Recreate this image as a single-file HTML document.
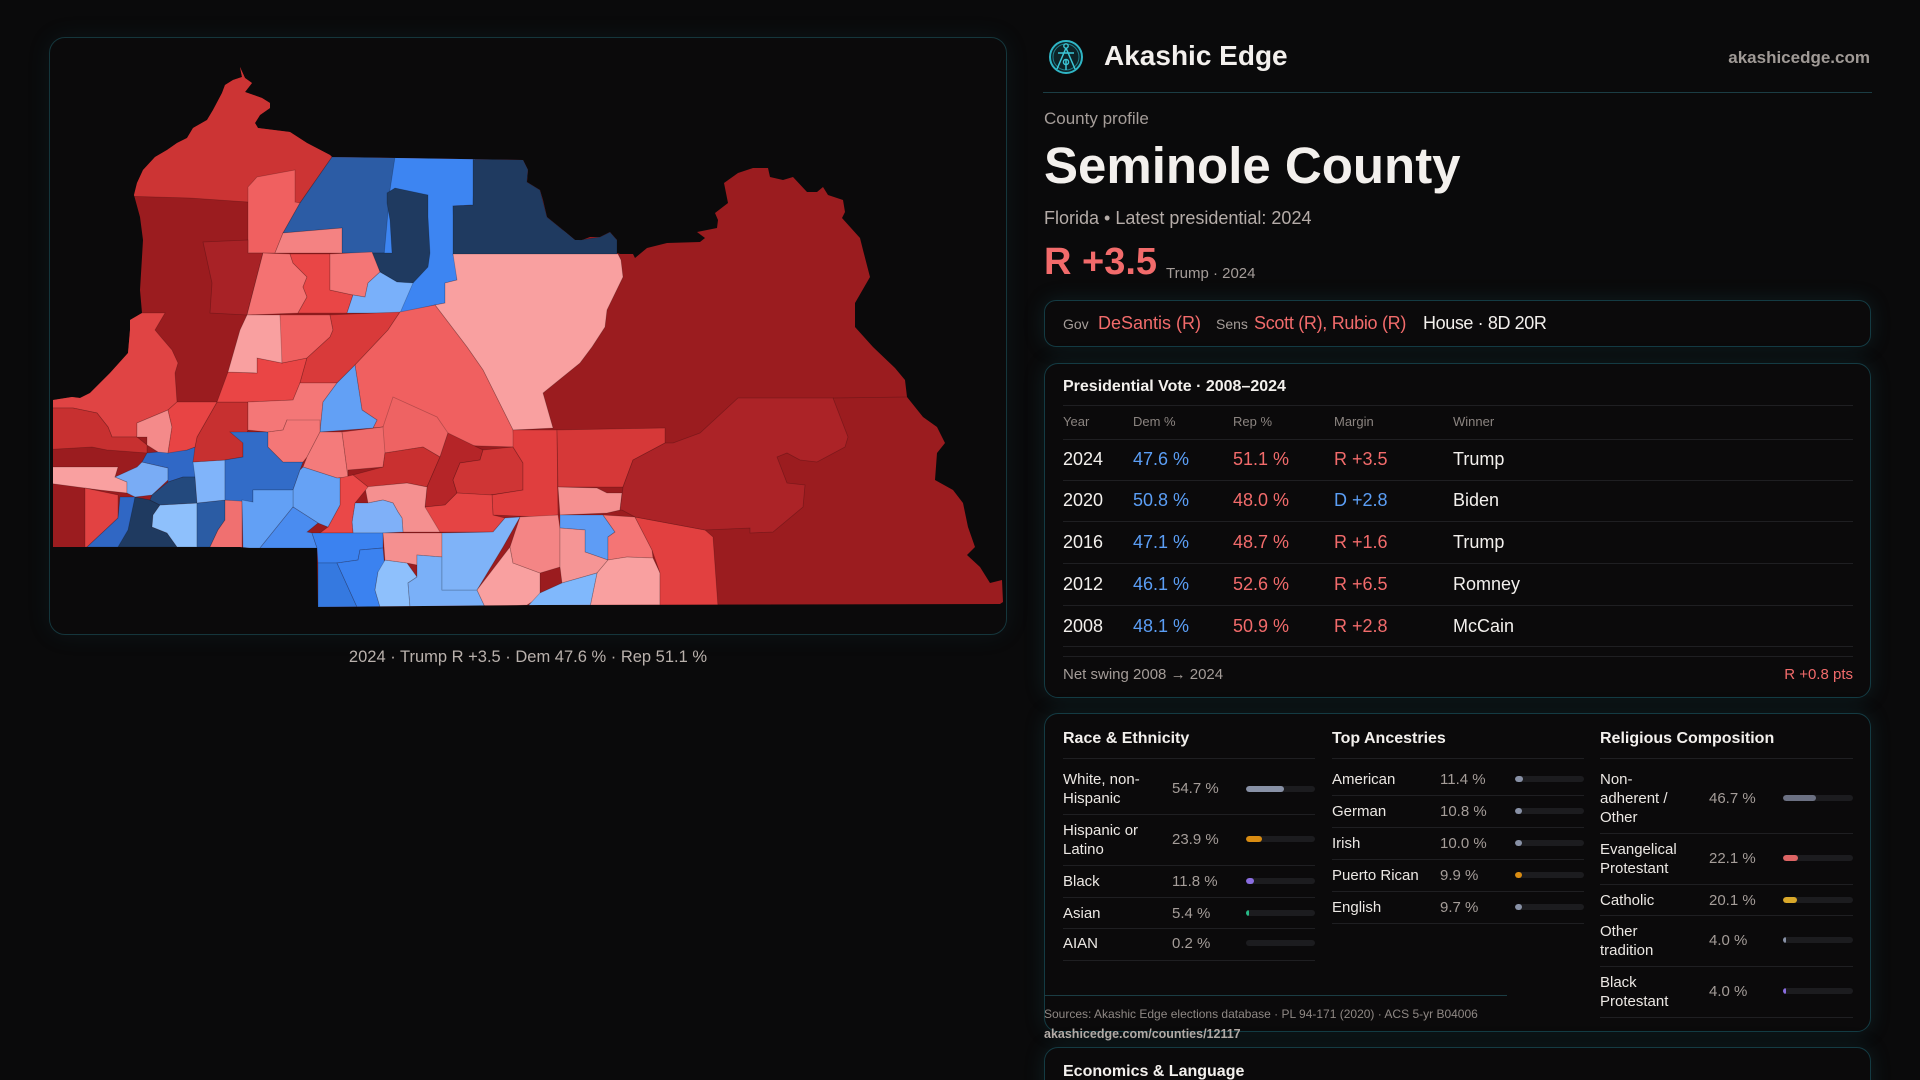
<!DOCTYPE html>
<html><head><meta charset="utf-8">
<style>
*{margin:0;padding:0;box-sizing:border-box}
html,body{width:1920px;height:1080px;overflow:hidden;background:#0a0a0b;font-family:"Liberation Sans",sans-serif;color:#f3f0ed}
#root{position:relative;width:1920px;height:1080px;overflow:hidden;background:#0a0a0b}
.a{position:absolute;line-height:1;white-space:nowrap}
.card{position:absolute;left:1044px;width:827px;border:1px solid #143b43;border-radius:14px;background:#0b0a0b;box-shadow:0 0 20px rgba(30,100,110,0.22)}
.ln{position:absolute;height:1px;background:#1f1f22}
.g{color:#a59d99}
.r{color:#f26b6b}
.b{color:#5b9ef5}
.w{color:#f3f0ed}
.t15{position:absolute;font-size:15px;line-height:19px;white-space:nowrap}
.lab{color:#ece8e4}
.val{color:#a59d99}
.trk{position:absolute;height:6px;border-radius:3px;background:#1c1c1f;overflow:hidden}
.trk i{position:absolute;left:0;top:0;height:6px;border-radius:3px}
.hd{font-size:13px;color:#8b8480}
.rw{font-size:18px}
.tt{font-size:16px;font-weight:bold;color:#f3f0ed}
</style></head><body>
<div id="root">

<!-- Map panel -->
<div style="position:absolute;left:49px;top:37px;width:958px;height:598px;border:1px solid #15363c;border-radius:16px;background:#0b0a0b;box-shadow:0 0 24px rgba(30,110,120,0.12)"></div>

<svg style="position:absolute;left:49px;top:37px" width="958" height="598" viewBox="49 37 958 598">
<defs>
<clipPath id="cl"><polygon points="240,67 245,78 252,83 245,92 262,98 270,103 270,108 260,115 255,123 258,128 290,132 307,143 330,155 332,157 523,160 528,170 527,182 540,190 543,200 547,217 563,230 575,240 582,240 590,237 600,237 610,232 617,240 617,253 620,254 633,254 635,258 647,248 667,243 700,242 705,238 697,232 717,228 718,220 715,213 728,203 724,183 738,173 753,168 768,168 770,177 783,180 793,177 807,192 817,192 823,187 828,195 843,200 845,212 842,218 860,238 863,250 870,277 855,303 855,327 873,347 895,368 905,380 907,397 923,417 937,427 945,443 937,453 935,480 953,490 963,503 968,527 975,547 967,555 980,567 990,583 1002,580 1003,602 1000,604 540,605 318,607 317,548 250,548 240,547 53,547 53,400 72,397 80,398 90,393 110,373 128,353 130,330 130,320 142,313 140,290 142,257 143,240 140,217 134,195 137,183 143,170 155,157 167,150 177,143 187,138 193,128 207,120 213,110 222,93 225,85 233,80 242,77"/></clipPath>
</defs>
<g clip-path="url(#cl)" stroke="rgba(0,0,0,0.22)" stroke-width="0.8">
<rect x="40" y="40" width="980" height="600" fill="#9b1c1f"/>
<polygon fill="#cc3434" points="100,40 362,40 332,157 300,203 248,202 190,198 120,196"/>
<polygon fill="#f06060" points="248,187 257,177 295,170 295,202 300,203 283,233 275,253 248,253"/>
<polygon fill="#a82226" points="203,242 248,240 248,253 263,253 247,315 210,313 212,283"/>
<polygon fill="#2c5ca5" points="332,157 398,157 398,253 342,253 342,228 283,233 300,203"/>
<polygon fill="#3d85f2" points="395,157 475,159 473,205 453,206 455,253 457,280 445,283 445,303 435,305 400,313 380,300 390,190"/>
<polygon fill="#1f3a60" points="387,193 395,188 428,195 428,217 430,253 428,267 413,283 397,282 380,272 373,257 372,253 392,253 390,220 387,203"/>
<polygon fill="#1f3a60" points="473,150 530,150 528,170 527,182 540,190 547,217 563,230 580,240 600,237 610,232 617,240 617,255 453,255 453,206 473,205"/>
<polygon fill="#f9a0a0" points="453,254 618,254 621,260 623,277 607,310 605,327 592,347 580,363 543,393 553,428 513,430 483,370 467,347 435,305 445,303 445,283 457,280"/>
<polygon fill="#f48282" points="283,233 342,228 342,253 275,253"/>
<polygon fill="#f47272" points="263,253 290,254 293,263 307,277 303,287 307,297 298,313 247,315"/>
<polygon fill="#e94646" points="290,254 330,254 330,290 353,295 347,313 298,313 307,297 303,287 307,277 293,263"/>
<polygon fill="#f47676" points="330,254 372,252 380,272 368,283 365,297 353,295 330,290"/>
<polygon fill="#79b0fa" points="368,283 380,272 397,282 413,283 400,313 347,313 353,295 365,297"/>
<polygon fill="#e04444" points="100,310 142,313 165,313 155,330 160,336 172,350 178,363 175,373 177,402 168,410 137,423 137,437 112,437 108,427 97,413 73,408 40,408 40,300"/>
<polygon fill="#c73030" points="40,408 73,408 97,413 108,427 112,437 137,437 147,445 147,453 107,450 92,447 40,450"/>
<polygon fill="#f9a0a0" points="40,467 118,467 115,477 127,482 127,493 100,490 40,482"/>
<polygon fill="#e24242" points="85,488 118,495 118,518 87,547 85,547"/>
<polygon fill="#3067c4" points="87,547 118,518 120,497 135,497 133,530 120,547"/>
<polygon fill="#1f3a60" points="135,497 150,500 160,505 153,515 152,527 167,533 177,547 118,547 128,530"/>
<polygon fill="#8ec0fc" points="160,505 197,503 197,547 177,547 167,533 152,527 153,515"/>
<polygon fill="#2b5ca4" points="197,503 225,500 225,520 218,530 210,547 197,547"/>
<polygon fill="#f07070" points="225,500 242,500 242,548 210,547 218,530 225,520"/>
<polygon fill="#79acf5" points="115,477 137,467 142,462 168,468 168,480 152,495 135,497 127,493 127,482"/>
<polygon fill="#3068c6" points="142,462 147,453 158,452 187,450 195,447 195,477 183,477 168,482 168,468"/>
<polygon fill="#23497d" points="168,482 183,477 195,477 197,503 160,505 150,500 152,495"/>
<polygon fill="#80b4fa" points="193,462 225,460 225,500 197,503 195,477"/>
<polygon fill="#c73030" points="195,447 197,437 217,402 248,402 248,430 243,443 243,457 225,460 193,462"/>
<polygon fill="#f48a8a" points="137,423 168,410 172,427 168,453 158,452 147,445 147,437 137,437"/>
<polygon fill="#e84444" points="168,410 177,402 217,402 197,437 195,447 187,450 168,453 172,427"/>
<polygon fill="#326cc8" points="230,432 268,432 268,447 283,462 303,462 300,470 293,490 253,490 253,502 225,500 225,460 243,457 243,443"/>
<polygon fill="#ea4545" points="228,372 257,373 257,358 282,363 307,358 300,383 293,400 248,402 217,402"/>
<polygon fill="#f9a0a0" points="247,315 280,315 282,330 282,363 257,358 257,373 228,372 240,330"/>
<polygon fill="#f06060" points="280,315 330,315 333,330 330,337 307,358 282,363"/>
<polygon fill="#d93a3a" points="330,315 400,312 388,330 355,365 337,383 300,383 307,358 330,337 333,330"/>
<polygon fill="#f06060" points="400,312 435,305 467,347 483,370 513,430 515,447 450,445 440,457 423,447 385,453 383,427 373,428 377,420 362,410 355,365 388,330"/>
<polygon fill="#ee6363" points="373,428 383,427 393,397 437,417 448,433 440,457 423,447 385,453"/>
<polygon fill="#f47777" points="248,402 293,400 300,383 337,383 323,402 320,432 287,420 283,430 268,432 248,430"/>
<polygon fill="#62a0f5" points="337,383 355,365 362,410 377,420 373,428 320,432 323,402"/>
<polygon fill="#f47777" points="268,432 283,430 287,420 320,420 320,432 307,457 303,462 283,462 268,447"/>
<polygon fill="#f47b7b" points="320,432 342,432 348,477 337,478 303,467 307,457"/>
<polygon fill="#f06b6b" points="342,432 383,427 385,453 383,467 348,470 348,477"/>
<polygon fill="#c93030" points="353,475 383,467 385,453 423,447 440,457 427,487 407,483 368,487"/>
<polygon fill="#b52528" points="448,433 483,450 480,460 460,463 453,480 457,493 445,505 425,507 427,487 440,457"/>
<polygon fill="#cf3535" points="483,450 513,447 523,463 523,490 490,495 457,493 453,480 460,463 480,460"/>
<polygon fill="#e03e3e" points="513,430 557,430 558,515 540,517 493,515 492,495 523,490 523,463 513,447"/>
<polygon fill="#d63838" points="557,430 665,428 665,443 633,460 623,487 558,487"/>
<polygon fill="#e54444" points="425,507 445,505 457,493 492,495 493,515 505,518 493,532 440,532 428,520"/>
<polygon fill="#f59090" points="365,487 407,483 427,487 425,507 440,532 403,532 402,518 398,512 393,503 383,500 368,503"/>
<polygon fill="#7fb0f8" points="355,503 368,503 383,500 393,503 398,512 402,518 403,532 383,533 353,533 352,522"/>
<polygon fill="#ea4848" points="340,478 353,475 368,487 355,503 352,522 353,533 320,533 328,527 340,505"/>
<polygon fill="#66a2f5" points="303,467 337,478 340,478 340,505 328,527 318,523 293,507 293,490 300,470"/>
<polygon fill="#62a0f5" points="253,490 293,490 293,507 260,548 243,548 242,500 253,502"/>
<polygon fill="#4a8cf0" points="293,507 318,523 307,532 312,533 317,548 260,548"/>
<polygon fill="#3b82f0" points="312,533 383,533 383,548 360,550 358,560 337,563 318,563 317,548"/>
<polygon fill="#3579e0" points="318,563 337,563 357,607 318,607"/>
<polygon fill="#3b82f0" points="337,563 358,560 360,550 383,548 385,570 378,572 375,590 380,607 357,607"/>
<polygon fill="#8ec0fc" points="385,560 407,563 417,577 408,583 410,607 380,607 375,590 378,572"/>
<polygon fill="#f59090" points="383,533 442,533 442,557 417,555 417,565 407,563 385,560"/>
<polygon fill="#7ab0f8" points="417,555 442,557 442,590 477,590 485,607 410,607 408,583 417,577 417,565"/>
<polygon fill="#7fb3f8" points="442,533 493,532 505,518 520,517 503,547 477,590 442,590"/>
<polygon fill="#f9a0a0" points="477,590 510,547 513,563 540,573 540,597 527,605 485,607"/>
<polygon fill="#f48585" points="520,517 558,515 560,528 560,567 540,573 513,563 510,547"/>
<polygon fill="#f59090" points="558,487 597,488 607,493 622,493 620,510 607,513 560,515"/>
<polygon fill="#5e9cf5" points="560,515 603,515 615,532 608,537 608,560 585,552 585,530 560,528"/>
<polygon fill="#f47575" points="603,515 635,517 652,550 653,558 627,557 608,560 608,537 615,532"/>
<polygon fill="#f59595" points="560,528 585,530 585,552 608,560 597,573 562,583 560,567"/>
<polygon fill="#f9a0a0" points="627,557 653,558 660,573 660,607 590,607 597,573 608,560"/>
<polygon fill="#80b8fc" points="597,573 590,607 527,607 540,593 562,583"/>
<polygon fill="#e24040" points="635,517 705,530 713,537 718,607 660,607 660,573 652,550"/>
<polygon fill="#ac2327" points="665,443 673,443 700,433 738,398 833,398 848,437 845,447 817,462 800,460 787,453 777,457 787,483 805,485 803,507 773,532 750,533 750,528 705,530 635,517 622,510 620,510 623,487 633,460"/>
<polyline fill="none" points="833,398 907,397"/>
</g>
</svg>

<div class="a" style="left:49px;width:958px;top:649px;text-align:center;font-size:16.5px;color:#b9b1ac">2024 · Trump R +3.5 · Dem 47.6 % · Rep 51.1 %</div>

<!-- Header -->
<svg style="position:absolute;left:1046px;top:37px" width="40" height="40" viewBox="1046 37 40 40">
<circle cx="1066" cy="57" r="16" fill="#0d2327" stroke="#2fb5c5" stroke-width="2"/>
<circle cx="1066" cy="57" r="13" fill="none" stroke="#1f7f8c" stroke-width="1"/>
<circle cx="1066" cy="46" r="2.2" fill="none" stroke="#3cc6d6" stroke-width="1.4"/>
<path d="M1066 48 L1057 69 M1066 48 L1075 69 M1058 53 L1074 53 M1066 60 L1066 70" stroke="#3cc6d6" stroke-width="1.5" fill="none"/>
<circle cx="1066" cy="62" r="2.6" fill="none" stroke="#3cc6d6" stroke-width="1.4"/>
</svg>
<div class="a" style="left:1104px;top:42px;font-size:28px;font-weight:bold">Akashic Edge</div>
<div class="a" style="right:50px;top:49px;font-size:17px;font-weight:bold;color:#a09a96">akashicedge.com</div>
<div style="position:absolute;left:1043px;top:92px;width:829px;height:1px;background:#1b3d44"></div>

<div class="a g" style="left:1044px;top:110px;font-size:17px">County profile</div>
<div class="a" style="left:1044px;top:140px;font-size:51px;font-weight:bold">Seminole County</div>
<div class="a" style="left:1044px;top:209px;font-size:18px;color:#b5aca8">Florida • Latest presidential: 2024</div>
<div class="a r" style="left:1044px;top:243px;font-size:38px;font-weight:bold">R +3.5</div>
<div class="a g" style="left:1166px;top:266px;font-size:15px">Trump · 2024</div>

<!-- Officials -->
<div class="card" style="top:300px;height:47px;border-radius:12px"></div>
<div class="a g" style="left:1063px;top:317px;font-size:14px">Gov</div>
<div class="a r" style="left:1098px;top:314px;font-size:18px">DeSantis (R)</div>
<div class="a g" style="left:1216px;top:317px;font-size:14px">Sens</div>
<div class="a r" style="left:1254px;top:314px;font-size:18px;letter-spacing:-0.3px">Scott (R), Rubio (R)</div>
<div class="a w" style="left:1423px;top:314px;font-size:18px;letter-spacing:-0.4px">House · 8D 20R</div>

<!-- Presidential -->
<div class="card" style="top:363px;height:335px"></div>
<div class="a tt" style="left:1063px;top:379px">Presidential Vote · 2008–2024</div>
<div class="ln" style="left:1063px;width:790px;top:405px"></div>
<div class="a hd" style="left:1063px;top:415px">Year</div>
<div class="a hd" style="left:1133px;top:415px">Dem %</div>
<div class="a hd" style="left:1233px;top:415px">Rep %</div>
<div class="a hd" style="left:1334px;top:415px">Margin</div>
<div class="a hd" style="left:1453px;top:415px">Winner</div>
<div class="ln" style="left:1063px;width:790px;top:439px"></div>

<div class="a rw w" style="left:1063px;top:450px">2024</div>
<div class="a rw b" style="left:1133px;top:450px">47.6 %</div>
<div class="a rw r" style="left:1233px;top:450px">51.1 %</div>
<div class="a rw r" style="left:1334px;top:450px">R +3.5</div>
<div class="a rw w" style="left:1453px;top:450px">Trump</div>
<div class="ln" style="left:1063px;width:790px;top:480px"></div>

<div class="a rw w" style="left:1063px;top:491px">2020</div>
<div class="a rw b" style="left:1133px;top:491px">50.8 %</div>
<div class="a rw r" style="left:1233px;top:491px">48.0 %</div>
<div class="a rw b" style="left:1334px;top:491px">D +2.8</div>
<div class="a rw w" style="left:1453px;top:491px">Biden</div>
<div class="ln" style="left:1063px;width:790px;top:521px"></div>

<div class="a rw w" style="left:1063px;top:533px">2016</div>
<div class="a rw b" style="left:1133px;top:533px">47.1 %</div>
<div class="a rw r" style="left:1233px;top:533px">48.7 %</div>
<div class="a rw r" style="left:1334px;top:533px">R +1.6</div>
<div class="a rw w" style="left:1453px;top:533px">Trump</div>
<div class="ln" style="left:1063px;width:790px;top:563px"></div>

<div class="a rw w" style="left:1063px;top:575px">2012</div>
<div class="a rw b" style="left:1133px;top:575px">46.1 %</div>
<div class="a rw r" style="left:1233px;top:575px">52.6 %</div>
<div class="a rw r" style="left:1334px;top:575px">R +6.5</div>
<div class="a rw w" style="left:1453px;top:575px">Romney</div>
<div class="ln" style="left:1063px;width:790px;top:605px"></div>

<div class="a rw w" style="left:1063px;top:617px">2008</div>
<div class="a rw b" style="left:1133px;top:617px">48.1 %</div>
<div class="a rw r" style="left:1233px;top:617px">50.9 %</div>
<div class="a rw r" style="left:1334px;top:617px">R +2.8</div>
<div class="a rw w" style="left:1453px;top:617px">McCain</div>
<div class="ln" style="left:1063px;width:790px;top:646px"></div>
<div class="ln" style="left:1063px;width:790px;top:656px"></div>

<div class="a" style="left:1063px;top:667px;font-size:15px;color:#a49c98">Net swing 2008 → 2024</div>
<div class="a r" style="right:67px;top:667px;font-size:15px">R +0.8 pts</div>

<!-- Demographics -->
<div class="card" style="top:713px;height:319px"></div>
<div class="a tt" style="left:1063px;top:731px">Race &amp; Ethnicity</div>
<div class="a tt" style="left:1332px;top:731px">Top Ancestries</div>
<div class="a tt" style="left:1600px;top:731px">Religious Composition</div>
<div class="ln" style="left:1063px;width:252px;top:758px"></div>
<div class="ln" style="left:1332px;width:252px;top:758px"></div>
<div class="ln" style="left:1600px;width:253px;top:758px"></div>

<!-- Race -->
<div class="t15 lab" style="left:1063px;top:770px">White, non-<br>Hispanic</div>
<div class="t15 val" style="left:1172px;top:779px">54.7 %</div>
<div class="trk" style="left:1246px;top:786px;width:69px"><i style="width:38px;background:#8891a6"></i></div>
<div class="ln" style="left:1063px;width:252px;top:814px"></div>

<div class="t15 lab" style="left:1063px;top:821px">Hispanic or<br>Latino</div>
<div class="t15 val" style="left:1172px;top:830px">23.9 %</div>
<div class="trk" style="left:1246px;top:836px;width:69px"><i style="width:16px;background:#d98c12"></i></div>
<div class="ln" style="left:1063px;width:252px;top:865px"></div>

<div class="t15 lab" style="left:1063px;top:872px">Black</div>
<div class="t15 val" style="left:1172px;top:872px">11.8 %</div>
<div class="trk" style="left:1246px;top:878px;width:69px"><i style="width:8px;background:#8a6de0"></i></div>
<div class="ln" style="left:1063px;width:252px;top:897px"></div>

<div class="t15 lab" style="left:1063px;top:904px">Asian</div>
<div class="t15 val" style="left:1172px;top:904px">5.4 %</div>
<div class="trk" style="left:1246px;top:910px;width:69px"><i style="width:3px;background:#27b986"></i></div>
<div class="ln" style="left:1063px;width:252px;top:928px"></div>

<div class="t15 lab" style="left:1063px;top:934px">AIAN</div>
<div class="t15 val" style="left:1172px;top:934px">0.2 %</div>
<div class="trk" style="left:1246px;top:940px;width:69px"></div>
<div class="ln" style="left:1063px;width:252px;top:960px"></div>

<!-- Ancestries -->
<div class="t15 lab" style="left:1332px;top:770px">American</div>
<div class="t15 val" style="left:1440px;top:770px">11.4 %</div>
<div class="trk" style="left:1515px;top:776px;width:69px"><i style="width:8px;background:#8891a6"></i></div>
<div class="ln" style="left:1332px;width:252px;top:795px"></div>

<div class="t15 lab" style="left:1332px;top:802px">German</div>
<div class="t15 val" style="left:1440px;top:802px">10.8 %</div>
<div class="trk" style="left:1515px;top:808px;width:69px"><i style="width:7px;background:#8891a6"></i></div>
<div class="ln" style="left:1332px;width:252px;top:827px"></div>

<div class="t15 lab" style="left:1332px;top:834px">Irish</div>
<div class="t15 val" style="left:1440px;top:834px">10.0 %</div>
<div class="trk" style="left:1515px;top:840px;width:69px"><i style="width:7px;background:#8891a6"></i></div>
<div class="ln" style="left:1332px;width:252px;top:859px"></div>

<div class="t15 lab" style="left:1332px;top:866px">Puerto Rican</div>
<div class="t15 val" style="left:1440px;top:866px">9.9 %</div>
<div class="trk" style="left:1515px;top:872px;width:69px"><i style="width:7px;background:#d98c12"></i></div>
<div class="ln" style="left:1332px;width:252px;top:891px"></div>

<div class="t15 lab" style="left:1332px;top:898px">English</div>
<div class="t15 val" style="left:1440px;top:898px">9.7 %</div>
<div class="trk" style="left:1515px;top:904px;width:69px"><i style="width:7px;background:#8891a6"></i></div>
<div class="ln" style="left:1332px;width:252px;top:923px"></div>

<!-- Religion -->
<div class="t15 lab" style="left:1600px;top:770px">Non-<br>adherent /<br>Other</div>
<div class="t15 val" style="left:1709px;top:789px">46.7 %</div>
<div class="trk" style="left:1783px;top:795px;width:70px"><i style="width:33px;background:#6b7082"></i></div>
<div class="ln" style="left:1600px;width:253px;top:833px"></div>

<div class="t15 lab" style="left:1600px;top:840px">Evangelical<br>Protestant</div>
<div class="t15 val" style="left:1709px;top:849px">22.1 %</div>
<div class="trk" style="left:1783px;top:855px;width:70px"><i style="width:15px;background:#dd6464"></i></div>
<div class="ln" style="left:1600px;width:253px;top:884px"></div>

<div class="t15 lab" style="left:1600px;top:891px">Catholic</div>
<div class="t15 val" style="left:1709px;top:891px">20.1 %</div>
<div class="trk" style="left:1783px;top:897px;width:70px"><i style="width:14px;background:#d9a82a"></i></div>
<div class="ln" style="left:1600px;width:253px;top:915px"></div>

<div class="t15 lab" style="left:1600px;top:922px">Other<br>tradition</div>
<div class="t15 val" style="left:1709px;top:931px">4.0 %</div>
<div class="trk" style="left:1783px;top:937px;width:70px"><i style="width:3px;background:#8891a6"></i></div>
<div class="ln" style="left:1600px;width:253px;top:966px"></div>

<div class="t15 lab" style="left:1600px;top:973px">Black<br>Protestant</div>
<div class="t15 val" style="left:1709px;top:982px">4.0 %</div>
<div class="trk" style="left:1783px;top:988px;width:70px"><i style="width:3px;background:#8a6de0"></i></div>
<div class="ln" style="left:1600px;width:253px;top:1017px"></div>

<!-- Sources -->
<div style="position:absolute;left:1044px;top:995px;width:463px;height:1px;background:#1b3d44"></div>
<div class="a" style="left:1044px;top:1008px;font-size:12px;color:#8f8884">Sources: Akashic Edge elections database · PL 94-171 (2020) · ACS 5-yr B04006</div>
<div class="a" style="left:1044px;top:1028px;font-size:12.5px;font-weight:bold;color:#b5ada8">akashicedge.com/counties/12117</div>

<!-- Economics -->
<div class="card" style="top:1047px;height:60px"></div>
<div class="a tt" style="left:1063px;top:1064px">Economics &amp; Language</div>

</div>
</body></html>
